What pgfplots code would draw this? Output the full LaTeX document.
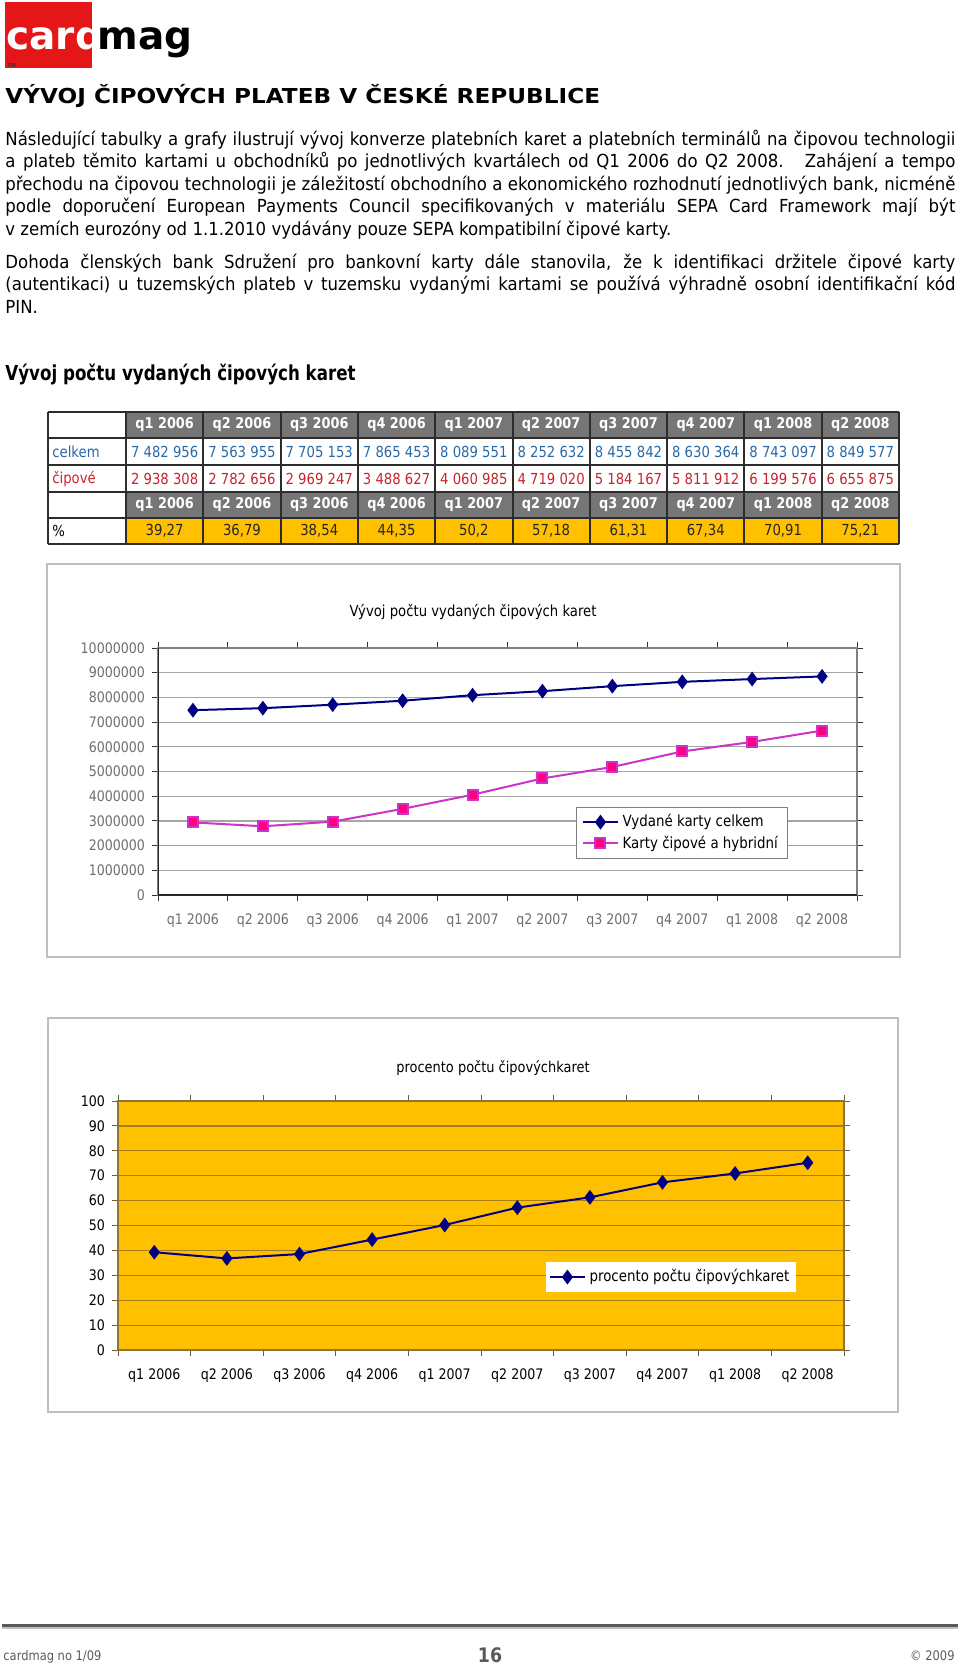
\documentclass[border=0pt]{standalone}
\usepackage{fontspec}
\usepackage{pgfplots}
\pgfplotsset{compat=1.18}
\setmainfont{DejaVu Sans}
\newfontfamily\tah{DejaVu Sans}[FakeStretch=0.87]
\newfontfamily\tahb{DejaVu Sans}[FakeStretch=0.92]
\newfontfamily\headf{DejaVu Sans}[FakeStretch=0.81]
\newfontfamily\verdb{DejaVu Sans}[FakeStretch=1.125]
\definecolor{logored}{RGB}{228,22,24}
\definecolor{hdrgray}{RGB}{118,118,118}
\definecolor{tblline}{RGB}{45,45,45}
\definecolor{tblblue}{RGB}{40,105,168}
\definecolor{tblred}{RGB}{200,35,45}
\definecolor{gold}{RGB}{255,192,0}
\definecolor{framegray}{RGB}{190,190,190}
\definecolor{axgray}{RGB}{128,128,128}
\definecolor{gridgray}{RGB}{165,165,165}
\definecolor{labgray}{RGB}{110,110,110}
\definecolor{navy}{RGB}{0,0,128}
\definecolor{magline}{RGB}{204,51,204}
\definecolor{pinkm}{RGB}{255,0,128}
\definecolor{goldgrid}{RGB}{165,125,20}
\definecolor{goldaxis}{RGB}{140,115,60}
\definecolor{footgray}{RGB}{90,90,90}
\newcommand\bodyf{\tahb\fontsize{9}{11}\selectfont}
\newcommand\chartf{\tah\fontsize{7.25}{8.5}\selectfont}
\newcommand\legf{\tah\fontsize{7.7}{9}\selectfont}
\newcommand\hdrf{\tah\bfseries\fontsize{7.4}{8.5}\selectfont}
\newcommand\valf{\tah\fontsize{7.6}{8.5}\selectfont}
\begin{document}
\begin{tikzpicture}
\begin{scope}[x=0.5pt,y=-0.5pt]
\path[use as bounding box] (0,0) rectangle (960,1666);
% logo
\fill[logored] (5,2) rectangle (92,68);
\node[anchor=base west,inner sep=0,text=white] at (6,49) {\bfseries\fontsize{19.5}{21}\selectfont card};
\node[anchor=base west,inner sep=0] at (97,49) {\bfseries\fontsize{19.5}{21}\selectfont mag};
\node[anchor=base west,inner sep=0,text=black!80] at (7,67) {\bfseries\fontsize{2.6}{3}\selectfont TM};
% title
\node[anchor=base west,inner sep=0] at (5,103) {\verdb\bfseries\fontsize{10.3}{12}\selectfont VÝVOJ ČIPOVÝCH PLATEB V ČESKÉ REPUBLICE};
% body
\node[anchor=base west,inner sep=0] at (5,145) {\bodyf\makebox[475pt][s]{Následující tabulky a grafy ilustrují vývoj konverze platebních karet a platebních terminálů na čipovou technologii}};
\node[anchor=base west,inner sep=0] at (5,167.5) {\bodyf\makebox[475pt][s]{a plateb těmito kartami u obchodníků po jednotlivých kvartálech od Q1 2006 do Q2 2008.~ Zahájení a tempo}};
\node[anchor=base west,inner sep=0] at (5,190) {\bodyf\makebox[475pt][s]{přechodu na čipovou technologii je záležitostí obchodního a ekonomického rozhodnutí jednotlivých bank, nicméně}};
\node[anchor=base west,inner sep=0] at (5,212.5) {\bodyf\makebox[475pt][s]{podle doporučení European Payments Council specifikovaných v materiálu SEPA Card Framework mají být}};
\node[anchor=base west,inner sep=0] at (5,235) {\bodyf v zemích eurozóny od 1.1.2010 vydávány pouze SEPA kompatibilní čipové karty.};
\node[anchor=base west,inner sep=0] at (5,268) {\bodyf\makebox[475pt][s]{Dohoda členských bank Sdružení pro bankovní karty dále stanovila, že k identifikaci držitele čipové karty}};
\node[anchor=base west,inner sep=0] at (5,290.5) {\bodyf\makebox[475pt][s]{(autentikaci) u tuzemských plateb v tuzemsku vydanými kartami se používá výhradně osobní identifikační kód}};
\node[anchor=base west,inner sep=0] at (5,313) {\bodyf PIN.};
\node[anchor=base west,inner sep=0] at (5,380) {\headf\bfseries\fontsize{10.3}{12}\selectfont Vývoj počtu vydaných čipových karet};
% table fills
\fill[hdrgray] (126,412) rectangle (899,438);
\fill[hdrgray] (126,492) rectangle (899,518);
\fill[gold] (126,518) rectangle (899,544);
\foreach \yy in {412,438,465,492,518,544} {\draw[tblline,line width=1pt] (48,\yy) -- (899,\yy);}
\draw[tblline,line width=1pt] (48,412) -- (48,544);
\foreach \i in {0,...,10} {\draw[tblline,line width=1pt] ({126+77.3*\i},412) -- ({126+77.3*\i},544);}
\node[anchor=west,text=tblblue,inner sep=0] at (52,451.5) {\valf celkem};
\node[anchor=west,text=tblred,inner sep=0] at (52,478.5) {\valf čipové};
\node[anchor=west,inner sep=0] at (52,531) {\valf \%};
\foreach \lab [count=\i from 0] in {q1 2006,q2 2006,q3 2006,q4 2006,q1 2007,q2 2007,q3 2007,q4 2007,q1 2008,q2 2008} {
  \node[text=white] at ({126+77.3*(\i+0.5)},425) {\hdrf \lab};
  \node[text=white] at ({126+77.3*(\i+0.5)},505) {\hdrf \lab};
}
\foreach \v [count=\i from 0] in {7 482 956,7 563 955,7 705 153,7 865 453,8 089 551,8 252 632,8 455 842,8 630 364,8 743 097,8 849 577} {
  \node[text=tblblue] at ({126+77.3*(\i+0.5)},451.5) {\valf \v};
}
\foreach \v [count=\i from 0] in {2 938 308,2 782 656,2 969 247,3 488 627,4 060 985,4 719 020,5 184 167,5 811 912,6 199 576,6 655 875} {
  \node[text=tblred] at ({126+77.3*(\i+0.5)},478.5) {\valf \v};
}
\foreach \a/\b [count=\i from 0] in {39/27,36/79,38/54,44/35,50/2,57/18,61/31,67/34,70/91,75/21} {
  \node[text=black!85] at ({126+77.3*(\i+0.5)},531) {\valf \a,\b};
}
% chart frames and titles
\draw[framegray,line width=1pt] (47,564) rectangle (900,957);
\node[anchor=base,inner sep=0] at (473,616) {\tah\fontsize{7.6}{9}\selectfont Vývoj počtu vydaných čipových karet};
\draw[framegray,line width=1pt] (48,1018) rectangle (898,1412);
\node[anchor=base,inner sep=0] at (493,1072) {\tah\fontsize{7.45}{9}\selectfont procento počtu čipovýchkaret};
% footer
\draw[footgray,line width=1.5pt] (2,1625) -- (958,1625);
\draw[black!25,line width=0.6pt] (2,1628) -- (958,1628);
\node[anchor=base west,inner sep=0,text=footgray] at (3,1660) {\tah\fontsize{6.6}{8}\selectfont cardmag no 1/09};
\node[anchor=base,inner sep=0,text=footgray] at (490,1662) {\tah\bfseries\fontsize{10}{12}\selectfont 16};
\node[anchor=base east,inner sep=0,text=footgray] at (955,1660) {\tah\fontsize{6.6}{8}\selectfont © 2009};
\end{scope}

% chart 1
\begin{axis}[
  at={(79pt,-447.5pt)}, anchor=south west, scale only axis,
  width=349.5pt, height=123.5pt,
  xmin=0, xmax=10, ymin=0, ymax=10000000,
  xtick={0,1,2,3,4,5,6,7,8,9,10},
  x tick label as interval,
  xticklabels={q1 2006,q2 2006,q3 2006,q4 2006,q1 2007,q2 2007,q3 2007,q4 2007,q1 2008,q2 2008},
  ytick={0,1000000,2000000,3000000,4000000,5000000,6000000,7000000,8000000,9000000,10000000},
  yticklabels={0,1000000,2000000,3000000,4000000,5000000,6000000,7000000,8000000,9000000,10000000},
  scaled y ticks=false,
  tick align=outside, major tick length=3pt,
  tick style={draw=black!80, line width=0.5pt},
  axis line style={draw=axgray, line width=0.8pt},
  ymajorgrids, grid style={draw=gridgray, line width=0.6pt},
  tick label style={font=\chartf, text=labgray},
  xticklabel style={yshift=-3pt},
  legend style={at={(0.598,0.356)}, anchor=north west, draw=axgray, fill=white,
    font=\legf, inner xsep=3pt, inner ysep=1.5pt, row sep=-1pt, cells={anchor=west}},
  legend cell align=left,
]
\addplot[color=navy, line width=1pt, mark=diamond*, mark size=2.9pt, mark options={fill=navy}]
  coordinates {(0.5,7482956) (1.5,7563955) (2.5,7705153) (3.5,7865453) (4.5,8089551) (5.5,8252632) (6.5,8455842) (7.5,8630364) (8.5,8743097) (9.5,8849577)};
\addplot[color=magline, line width=1pt, mark=square*, mark size=2.5pt, mark options={fill=pinkm, draw=magline}]
  coordinates {(0.5,2938308) (1.5,2782656) (2.5,2969247) (3.5,3488627) (4.5,4060985) (5.5,4719020) (6.5,5184167) (7.5,5811912) (8.5,6199576) (9.5,6655875)};
\legend{Vydané karty celkem, Karty čipové a hybridní}
\draw[black!85, line width=0.7pt] (rel axis cs:0,1) -- (rel axis cs:0,0) -- (rel axis cs:1,0);
\end{axis}

% chart 2
\begin{axis}[
  at={(59pt,-675pt)}, anchor=south west, scale only axis,
  width=363pt, height=124.5pt,
  xmin=0, xmax=10, ymin=0, ymax=100,
  xtick={0,1,2,3,4,5,6,7,8,9,10},
  x tick label as interval,
  xticklabels={q1 2006,q2 2006,q3 2006,q4 2006,q1 2007,q2 2007,q3 2007,q4 2007,q1 2008,q2 2008},
  ytick={0,10,20,30,40,50,60,70,80,90,100},
  yticklabels={0,10,20,30,40,50,60,70,80,90,100},
  tick align=outside, major tick length=3pt,
  tick style={draw=goldaxis!80!black, line width=0.5pt},
  axis background/.style={fill=gold},
  axis line style={draw=goldaxis, line width=0.8pt},
  ymajorgrids, grid style={draw=goldgrid, line width=0.6pt},
  tick label style={font=\chartf, text=black},
  xticklabel style={yshift=-3pt},
  legend style={at={(0.5895,0.3534)}, anchor=north west, draw=none, fill=white,
    font=\legf, inner sep=1.5pt, cells={anchor=west}},
  legend cell align=left,
]
\addplot[color=navy, line width=1pt, mark=diamond*, mark size=2.9pt, mark options={fill=navy}]
  coordinates {(0.5,39.27) (1.5,36.79) (2.5,38.54) (3.5,44.35) (4.5,50.2) (5.5,57.18) (6.5,61.31) (7.5,67.34) (8.5,70.91) (9.5,75.21)};
\legend{procento počtu čipovýchkaret}
\end{axis}
\end{tikzpicture}
\end{document}
